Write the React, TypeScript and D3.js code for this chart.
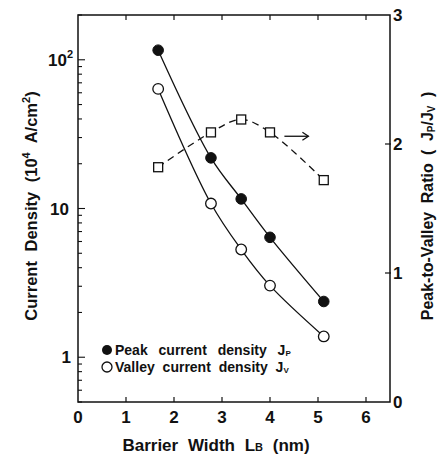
import React from 'react';
import * as d3 from 'd3';

const widths = [1.67, 2.77, 3.4, 4.0, 5.12];
const peak = [116, 21.9, 11.6, 6.4, 2.37];
const valley = [63.7, 10.8, 5.3, 3.03, 1.38];
const ratio = [1.82, 2.09, 2.19, 2.09, 1.72];
const xTicks = [0, 1, 2, 3, 4, 5, 6];
const yRightTicks = [0, 1, 2, 3];

const FONT = '"Liberation Sans", Arial, Helvetica, sans-serif';

export default function App() {
  const W = 437, H = 460;
  const L = 78, R = 390, T = 15, B = 402;
  const x = d3.scaleLinear().domain([0, 6.5]).range([L, R]);
  const y = d3.scaleLog().domain([0.5, 200]).range([B, T]);
  const y2 = d3.scaleLinear().domain([0, 3]).range([B, T]);

  const logTicks = y.ticks();
  const isMajor = (v: number) => Math.abs(Math.log10(v) - Math.round(Math.log10(v))) < 1e-9;

  const lineL = d3.line<number>().x((_, i) => x(widths[i])).y(d => y(d)).curve(d3.curveCatmullRom.alpha(0.5));
  const lineR = d3.line<number>().x((_, i) => x(widths[i])).y(d => y2(d)).curve(d3.curveCatmullRom.alpha(0.5));

  const sw = 1.3;
  const ax = { stroke: '#111', strokeWidth: 1.5, fill: 'none' };

  return (
    <svg width={W} height={H} style={{ position: 'absolute', left: 0, top: 0, background: '#fff' }} fontFamily={FONT}>
      <rect x={0} y={0} width={W} height={H} fill="#fff" />
      {/* frame */}
      <rect x={L} y={T} width={R - L} height={B - T} {...ax} />
      {/* x ticks bottom & top */}
      {xTicks.filter(t => t > 0).map(t => (
        <g key={'xt' + t}>
          <line x1={x(t)} x2={x(t)} y1={B} y2={B - 5} stroke="#111" strokeWidth={1.2} />
          <line x1={x(t)} x2={x(t)} y1={T} y2={T + 5} stroke="#111" strokeWidth={1.2} />
        </g>
      ))}
      {xTicks.map(t => (
        <text key={'xl' + t} x={x(t)} y={423} textAnchor="middle" fontSize={17} fontWeight="bold" fill="#111">{t}</text>
      ))}
      {/* left log ticks */}
      {logTicks.map((t, i) => (
        <line key={'yl' + i} x1={L} x2={L + (isMajor(t) ? 7 : 4)} y1={y(t)} y2={y(t)} stroke="#111" strokeWidth={1.1} />
      ))}
      <text x={71} y={y(1) + 6} textAnchor="end" fontSize={17} fontWeight="bold" fill="#111">1</text>
      <text x={69} y={y(10) + 6} textAnchor="end" fontSize={17} fontWeight="bold" fill="#111">10</text>
      <text x={73} y={y(100) + 6} textAnchor="end" fontSize={17} fontWeight="bold" fill="#111">10<tspan fontSize={11} dy={-8}>2</tspan></text>
      {/* right ticks */}
      {yRightTicks.filter(t => t > 0 && t < 3).map(t => (
        <line key={'yr' + t} x1={R - 5} x2={R + 1} y1={y2(t)} y2={y2(t)} stroke="#111" strokeWidth={1.2} />
      ))}
      {yRightTicks.map(t => (
        <text key={'yrl' + t} x={393} y={y2(t) + 6} textAnchor="start" fontSize={17} fontWeight="bold" fill="#111">{t}</text>
      ))}
      {/* lines */}
      <path d={lineL(peak) || ''} fill="none" stroke="#111" strokeWidth={sw} />
      <path d={lineL(valley) || ''} fill="none" stroke="#111" strokeWidth={sw} />
      <path d={lineR(ratio) || ''} fill="none" stroke="#111" strokeWidth={sw} strokeDasharray="7,5" />
      {/* markers */}
      {peak.map((v, i) => (
        <circle key={'p' + i} cx={x(widths[i])} cy={y(v)} r={5.3} fill="#111" stroke="#111" strokeWidth={1} />
      ))}
      {valley.map((v, i) => (
        <circle key={'v' + i} cx={x(widths[i])} cy={y(v)} r={5.3} fill="#fff" stroke="#111" strokeWidth={1.3} />
      ))}
      {ratio.map((v, i) => (
        <rect key={'r' + i} x={x(widths[i]) - 4.5} y={y2(v) - 4.5} width={9} height={9} fill="#fff" stroke="#111" strokeWidth={1.3} />
      ))}
      {/* arrow */}
      <g stroke="#111" strokeWidth={1.3} fill="none">
        <line x1={x(4.3)} x2={x(4.8)} y1={y2(2.06)} y2={y2(2.06)} />
        <path d={`M${x(4.8) - 6},${y2(2.06) - 4} L${x(4.8)},${y2(2.06)} L${x(4.8) - 6},${y2(2.06) + 4}`} />
      </g>
      {/* legend */}
      <circle cx={107} cy={350} r={5} fill="#111" />
      <text x={115} y={355} fontSize={14} fontWeight="bold" fill="#111" style={{ wordSpacing: '7px' }}>Peak current density J<tspan fontSize={8} dy={1}>P</tspan></text>
      <circle cx={107} cy={367} r={5} fill="#fff" stroke="#111" strokeWidth={1.3} />
      <text x={115} y={372} fontSize={14} fontWeight="bold" fill="#111" style={{ wordSpacing: '4px' }}>Valley current density J<tspan fontSize={8} dy={1}>V</tspan></text>
      {/* x title */}
      <text x={216} y={451} textAnchor="middle" fontSize={17} fontWeight="bold" fill="#111" style={{ wordSpacing: '5px' }}>Barrier Width L<tspan fontSize={11}>B</tspan> (nm)</text>
      {/* left title */}
      <text transform="translate(37,206) rotate(-90)" textAnchor="middle" fontSize={16.5} fontWeight="bold" fill="#111" style={{ wordSpacing: '5px' }}>
        Current Density (10<tspan fontSize={11} dy={-7}>4</tspan><tspan dy={7}> A/cm</tspan><tspan fontSize={11} dy={-7}>2</tspan><tspan dy={7}>)</tspan>
      </text>
      {/* right title */}
      <text transform="translate(433,206) rotate(-90)" textAnchor="middle" fontSize={16} fontWeight="bold" fill="#111" style={{ wordSpacing: '4px' }}>
        Peak-to-Valley Ratio ( J<tspan fontSize={10} dy={2}>P</tspan><tspan dy={-2}>/J</tspan><tspan fontSize={10} dy={2}>V</tspan><tspan dy={-2}> )</tspan>
      </text>
    </svg>
  );
}
